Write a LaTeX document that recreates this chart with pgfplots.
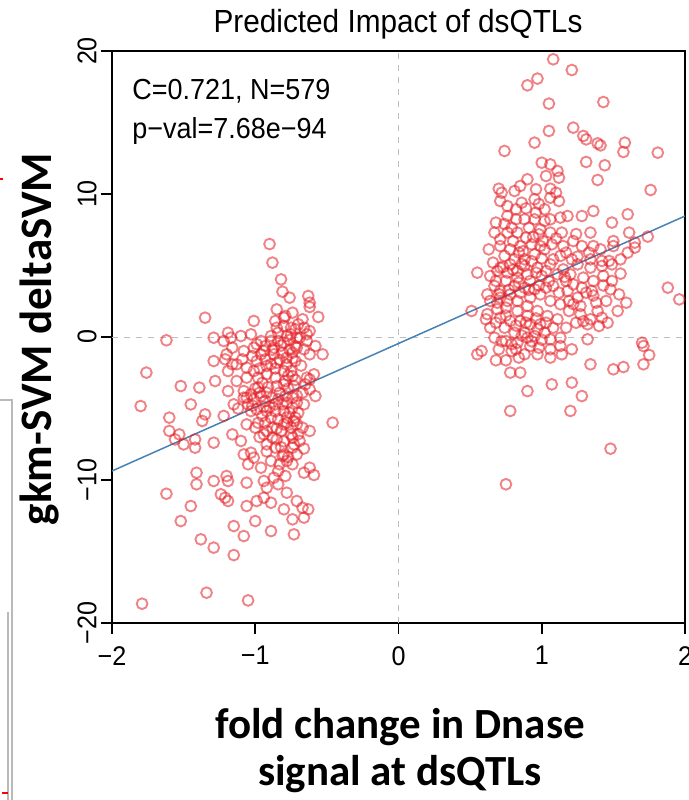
\documentclass[border=0pt]{standalone}
\usepackage{fontspec}
\setmainfont{Liberation Sans}
\newfontfamily\titlefont{Liberation Sans}[FakeStretch=0.93]
\newfontfamily\lblfont{Carlito}
\usepackage{pgfplots}
\pgfplotsset{compat=1.18}
\definecolor{ptred}{RGB}{228,30,36}
\definecolor{fitblue}{RGB}{70,130,180}
\definecolor{refgray}{RGB}{190,190,190}
\definecolor{edgegray}{RGB}{185,185,185}

\begin{document}
\begin{tikzpicture}
\path[use as bounding box] (-56pt,-88.5pt) rectangle (288.5pt,311.5pt);
% bits of the neighbouring panel at the left edge
\draw[edgegray, line width=0.6pt] (-56pt,111.5pt) -- (-50pt,111.5pt) -- (-50pt,-88.5pt);
\draw[edgegray, line width=0.6pt] (-52pt,5.5pt) -- (-52pt,-88.5pt);
\draw[red, line width=0.6pt] (-55pt,-85pt) -- (-52pt,-85pt);
\draw[red, line width=0.8pt] (-56pt,222pt) -- (-54.5pt,222pt);

\begin{axis}[
  at={(0,0)}, anchor=south west,
  scale only axis, width=286.5pt, height=286pt,
  xmin=-2, xmax=2, ymin=-20, ymax=20,
  xtick={-2,-1,0,1,2}, xticklabels={−2,−1,0,1,2},
  ytick={-20,-10,0,10,20}, yticklabels={−20,−10,0,10,20},
  xtick pos=bottom, ytick pos=left,
  tick align=outside, major tick length=5.5pt,
  tick style={line width=0.9pt, black},
  axis line style={line width=1pt},
  tick label style={font=\titlefont\fontsize{13.5}{16}\selectfont},
  yticklabel style={rotate=90, anchor=south, inner sep=2pt},
  xticklabel style={anchor=north, inner sep=2pt, yshift=-4pt},
]
  % reference lines
  \addplot[refgray, line width=0.5pt, dash pattern=on 3pt off 3pt] coordinates {(0,-20) (0,20)};
  \addplot[refgray, line width=0.5pt, dash pattern=on 3pt off 3pt] coordinates {(-2,0) (2,0)};

  % negative fold change
  \addplot[only marks, mark=o, mark size=2.7pt,
    mark options={draw=ptred, draw opacity=0.55, line width=0.95pt}] coordinates {
    (-0.82,4.03) (-0.81,3.17) (-0.76,2.75) (-0.63,2.87) (-0.62,2.40) (-0.62,2.10)
    (-1.35,1.35) (-1.01,1.12) (-0.56,1.40) (-0.85,1.93) (-0.79,1.47) (-0.74,1.70)
    (-0.67,1.24) (-0.70,0.89) (-0.86,1.12) (-0.80,0.77) (-1.62,-0.23) (-1.29,-0.05)
    (-1.19,0.30) (-1.17,-0.05) (-1.22,-0.28) (-1.10,0.07) (-1.03,0.19) (-0.96,-0.28)
    (-0.89,0.07) (-0.84,0.30) (-0.75,0.19) (-0.69,-0.05) (-0.62,0.42) (-0.64,-0.28)
    (-0.58,-0.63) (-0.53,-1.21) (-1.29,-1.68) (-1.21,-1.56) (-1.16,-1.91) (-1.08,-0.98)
    (-1.01,-0.75) (-0.94,-0.98) (-0.87,-0.75) (-0.80,-0.40) (-0.72,-0.63) (-0.66,-0.86)
    (-0.62,-1.21) (-1.76,-2.49) (-1.52,-3.43) (-1.39,-3.54) (-1.28,-3.08) (-1.19,-2.38)
    (-1.13,-3.08) (-1.06,-2.14) (-0.99,-1.68) (-0.93,-1.56) (-0.85,-1.80) (-0.78,-1.45)
    (-0.72,-1.68) (-0.80,-2.38) (-0.74,-2.73) (-0.64,-2.84) (-0.62,-2.96) (-0.58,-4.13)
    (-1.80,-4.83) (-1.45,-4.71) (-1.60,-5.64) (-1.60,-6.57) (-1.53,-6.81) (-1.50,-7.51)
    (-1.56,-7.16) (-1.42,-7.16) (-1.42,-7.74) (-1.35,-5.41) (-1.37,-5.87) (-1.22,-5.52)
    (-1.19,-3.78) (-1.15,-4.71) (-1.08,-4.24) (-1.03,-4.01) (-0.98,-3.54) (-0.92,-3.89)
    (-0.85,-3.43) (-0.79,-3.08) (-0.73,-3.43) (-0.67,-3.89) (-1.05,-4.71) (-0.99,-5.06)
    (-0.92,-5.18) (-0.86,-4.71) (-0.80,-5.18) (-0.74,-4.94) (-0.71,-4.59) (-0.66,-4.71)
    (-0.62,-6.57) (-0.46,-5.99) (-1.16,-6.81) (-1.10,-7.27) (-1.29,-7.39) (-1.06,-6.11)
    (-1.00,-6.34) (-0.94,-6.81) (-0.88,-6.34) (-0.82,-6.57) (-0.75,-6.34) (-0.74,-7.04)
    (-0.69,-7.27) (-0.73,-7.51) (-0.92,-7.51) (-0.86,-7.74) (-1.03,-8.09) (-1.05,-8.90)
    (-0.96,-9.14) (-0.89,-8.67) (-0.81,-8.32) (-0.78,-8.67) (-0.74,-8.90) (-0.84,-9.37)
    (-0.87,-9.84) (-0.79,-9.72) (-0.66,-9.49) (-0.59,-9.65) (-0.62,-9.14) (-1.41,-9.49)
    (-1.41,-10.30) (-1.29,-10.07) (-1.20,-9.72) (-1.19,-10.07) (-1.06,-10.19) (-0.94,-10.07)
    (-0.92,-10.54) (-0.84,-10.30) (-0.78,-10.89) (-1.62,-10.96) (-1.45,-11.82) (-1.24,-11.00)
    (-1.21,-11.24) (-1.19,-11.47) (-1.06,-11.82) (-0.99,-11.47) (-0.94,-11.24) (-0.89,-11.59)
    (-0.80,-12.05) (-0.71,-11.47) (-0.67,-11.94) (-0.63,-12.05) (-0.66,-12.63) (-0.74,-12.75)
    (-1.52,-12.87) (-1.15,-13.22) (-1.08,-13.92) (-1.00,-12.87) (-0.89,-13.57) (-0.73,-13.80)
    (-1.38,-14.15) (-1.29,-14.73) (-1.15,-15.25) (-1.79,-18.65) (-1.34,-17.88) (-1.05,-18.42)
    (-1.08,-3.78) (-1.06,-4.24) (-1.01,-4.36) (-0.96,-4.13) (-0.93,-4.48) (-0.88,-4.24)
    (-0.84,-4.36) (-0.79,-4.13) (-0.74,-4.24) (-1.03,-5.18) (-0.95,-5.52) (-0.89,-5.64)
    (-0.84,-5.76) (-0.78,-5.64) (-0.73,-5.87) (-0.93,-5.99) (-0.80,-6.11) (-0.75,-6.81)
    (-0.88,-7.04) (-0.98,-2.84) (-0.92,-2.61) (-0.86,-2.84) (-0.80,-3.31) (-0.75,-2.38)
    (-0.78,-1.91) (-0.92,-2.03) (-0.87,-1.21) (-0.81,-1.10) (-0.74,-1.10) (-0.71,-0.75)
    (-1.06,-2.84) (-1.01,-2.38) (-1.13,-1.91) (-1.09,-1.56) (-0.89,-0.28) (-0.93,-0.63)
    (-0.78,0.07) (-0.71,-0.05) (-0.84,-0.28) (-0.80,1.35) (-0.75,0.65) (-0.85,0.65)
    (-0.72,0.54) (-0.66,0.65) (-0.64,0.19) (-1.02,-1.33) (-0.96,-1.21) (-0.72,-5.64)
    (-0.71,-6.11) (-0.67,-6.34) (-0.74,-7.74) (-0.71,-8.21) (-0.80,-8.21) (-1.08,-8.21)
    (-1.01,-8.44) (-0.85,-7.16) (-0.92,-6.57) (-1.20,-1.21) (-1.16,-0.75) (-0.62,-3.66)
    (-0.65,-3.31) (-0.59,-2.61) (-0.90,6.50) (-0.88,5.20) (-0.95,-3.20) (-0.90,-4.90)
    (-0.78,-4.60) (-0.70,-5.30) (-1.00,-3.60) (-0.86,-2.20) (-0.74,-1.50) (-0.97,-7.00)
    (-0.80,-7.30) (-0.66,-7.80) (-0.92,-8.00) (-1.12,-5.00) (-0.68,-2.00) (-0.76,-0.20)
    (-0.99,-0.50)
    (-0.97,-3.90) (-0.91,-3.50) (-0.83,-3.90) (-0.77,-3.60) (-1.02,-4.80) (-0.94,-4.90)
    (-0.86,-5.20) (-0.81,-4.70) (-0.76,-5.30) (-0.71,-4.10) (-0.97,-2.20) (-0.89,-1.90)
    (-0.83,-1.60) (-0.77,-2.70) (-0.72,-3.00) (-0.88,-0.90) (-0.82,-0.60) (-0.76,-0.90)
    (-0.98,-6.00) (-0.85,-6.40) (-0.78,-6.00) (-0.70,-6.80) (-0.82,-7.70) (-0.77,-8.40)
    (-0.83,-8.90)
  };

  % positive fold change
  \addplot[only marks, mark=o, mark size=2.7pt,
    mark options={draw=ptred, draw opacity=0.55, line width=0.95pt}] coordinates {
    (1.08,19.42) (1.21,18.67) (0.90,17.60) (0.97,18.07) (1.05,16.32) (1.43,16.43)
    (1.05,14.41) (1.22,14.64) (1.29,14.06) (1.31,13.82) (1.39,13.54) (1.41,13.40)
    (1.58,13.59) (1.57,12.94) (1.81,12.89) (0.74,13.01) (0.95,13.59) (1.00,12.19)
    (1.06,12.07) (1.11,11.61) (1.03,11.26) (1.12,11.14) (1.31,12.24) (1.44,12.01)
    (1.39,10.98) (1.76,10.28) (0.90,11.03) (0.85,10.56) (0.70,10.37) (0.72,10.09)
    (0.81,10.21) (0.96,10.33) (1.06,10.37) (1.10,10.09) (1.06,9.74) (1.12,9.51)
    (0.71,9.51) (0.76,9.16) (0.82,8.93) (0.86,9.39) (0.95,9.63) (1.02,8.93)
    (0.96,8.70) (0.76,8.46) (0.82,8.23) (0.88,8.23) (0.95,8.23) (1.02,8.11)
    (1.13,8.35) (1.18,8.46) (1.28,8.46) (1.36,8.81) (1.49,8.00) (1.60,8.58)
    (1.61,7.30) (1.50,6.71) (1.34,7.30) (1.36,6.36) (1.22,6.71) (1.14,7.30)
    (1.06,7.30) (0.99,7.53) (0.89,6.95) (0.83,7.30) (0.76,7.30) (0.67,7.30)
    (0.63,6.13) (0.71,6.36) (0.78,6.13) (0.85,6.36) (0.93,6.48) (1.02,6.13)
    (1.07,6.48) (1.13,5.67) (1.25,5.62) (1.33,5.90) (1.41,6.13) (1.65,6.60)
    (1.74,7.02) (1.65,6.25) (1.50,6.36) (0.74,5.67) (0.81,5.43) (0.88,5.43)
    (0.95,5.78) (0.99,6.36) (0.91,7.65) (0.98,7.18) (1.06,8.23) (0.79,7.65)
    (0.71,6.83) (0.84,5.90) (1.08,5.43) (1.15,6.36) (1.21,5.43) (1.28,6.36)
    (1.42,5.32) (1.47,5.32) (1.55,5.43) (1.60,5.90) (1.34,5.43)
    (0.55,4.50) (0.64,4.27) (0.71,4.85) (0.78,5.08) (0.88,4.97) (0.97,4.85)
    (1.06,5.08) (1.15,4.73) (1.25,5.08) (1.34,4.85) (1.42,4.97) (1.49,5.08)
    (1.55,4.43) (1.48,3.33) (1.59,2.40) (1.53,1.82) (1.88,3.45) (1.96,2.63)
    (0.51,1.82) (0.62,2.98) (0.67,3.57) (0.75,3.92) (0.83,4.15) (0.92,3.92)
    (1.00,4.27) (1.08,3.57) (1.17,3.92) (1.22,3.68) (1.29,4.15) (1.36,3.92)
    (1.43,4.27) (1.31,3.10) (1.25,2.75) (1.18,3.22) (1.13,2.29) (1.06,2.52)
    (0.99,2.98) (0.92,2.75) (0.85,3.10) (0.78,2.98) (0.71,2.75) (0.64,2.52)
    (0.69,1.94) (0.75,2.05) (0.83,1.82) (0.90,2.17) (0.97,1.82) (1.04,1.47)
    (1.11,1.24) (1.19,1.82) (1.27,1.59) (1.34,1.24) (1.38,2.40) (1.45,2.52)
    (1.40,0.77) (1.42,1.35) (1.32,0.89) (1.24,1.00) (1.17,0.65) (1.08,0.65)
    (1.02,0.30) (0.95,0.07) (0.88,0.30) (0.81,0.30) (0.74,0.65) (0.64,0.65)
    (0.61,1.24) (0.67,-0.05) (0.75,-0.28) (0.83,-0.40) (0.90,-0.05) (0.98,-0.75)
    (1.06,-0.86) (1.13,-0.63) (1.21,-0.86) (1.32,-0.16) (0.70,-0.86) (0.79,-0.98)
    (0.88,-1.21) (0.97,-1.21) (1.06,-1.44) (1.14,-1.21) (0.55,-1.21) (0.58,-0.98)
    (0.68,-1.63) (0.75,-1.63) (0.84,-1.44) (0.78,-2.49) (0.85,-2.49) (0.90,-3.78)
    (1.07,-3.31) (1.21,-3.19) (1.28,-4.13) (1.34,-1.91) (1.50,-2.26) (1.57,-2.10)
    (1.71,-1.91) (1.70,-0.40) (1.71,-0.63) (1.75,-1.26) (0.78,-5.17) (1.20,-5.17)
    (1.48,-7.81) (0.75,-10.30)
    (0.69,4.62) (0.76,4.50) (0.83,4.62) (0.90,4.38) (0.96,4.50) (1.03,4.62)
    (1.11,4.38) (0.68,3.92) (0.81,3.57) (0.88,3.45) (0.95,3.33) (1.03,3.45)
    (1.12,3.10) (1.19,2.52) (1.27,2.17) (0.71,1.35) (0.78,1.12) (0.85,1.12)
    (0.92,0.89) (0.99,0.89) (0.69,2.40) (0.76,2.52) (0.83,2.52) (0.90,1.47)
    (0.97,0.54) (1.06,-0.16) (1.13,-0.05) (0.82,-0.86) (0.92,-0.63) (0.71,3.22)
    (1.20,4.38) (1.28,3.45) (1.35,3.22) (1.39,1.82) (1.46,1.00) (1.49,3.92)
    (1.54,2.98)
    (0.66,5.20) (0.73,4.90) (0.80,4.70) (0.86,5.10) (0.93,5.30) (1.00,5.50)
    (0.70,3.00) (0.77,3.30) (0.84,3.80) (0.91,3.30) (0.98,3.60) (1.05,3.90)
    (0.62,1.60) (0.68,1.00) (0.75,1.50) (0.82,0.80) (0.89,1.00) (0.96,1.30)
    (1.03,1.00) (0.72,-0.30) (0.79,-0.50) (0.86,0.10) (0.93,-0.30) (1.00,-0.20)
    (0.80,6.70) (0.87,6.00) (0.94,7.00) (1.01,6.70) (1.10,6.90) (1.17,5.90)
    (1.24,7.20) (0.68,8.00) (0.74,7.90) (0.89,9.00) (0.98,9.30) (1.16,4.20)
    (1.22,2.30) (1.29,1.10) (1.36,2.90) (1.43,3.60)
  };

  % fitted line
  \addplot[fitblue, line width=0.75pt] coordinates {(-2,-9.37) (2,8.46)};

  \node[anchor=base west, inner sep=0pt, font=\titlefont\fontsize{14.5}{17}\selectfont] at (axis cs:-1.86,16.6) {C=0.721, N=579};
  \node[anchor=base west, inner sep=0pt, font=\titlefont\fontsize{14.5}{17}\selectfont] at (axis cs:-1.86,13.9) {p−val=7.68e−94};
\end{axis}

\node[anchor=base, font=\titlefont\fontsize{16}{19}\selectfont] at (143pt,295pt) {Predicted Impact of dsQTLs};
\node[rotate=90, font=\lblfont\bfseries\fontsize{22.5}{27}\selectfont] at (-36pt,142pt) {gkm-SVM deltaSVM};
\node[anchor=base, font=\lblfont\bfseries\fontsize{21.5}{25}\selectfont] at (144pt,-57.5pt) {fold change in Dnase};
\node[anchor=base, font=\lblfont\bfseries\fontsize{21.5}{25}\selectfont] at (144pt,-81pt) {signal at dsQTLs};
\end{tikzpicture}
\end{document}
